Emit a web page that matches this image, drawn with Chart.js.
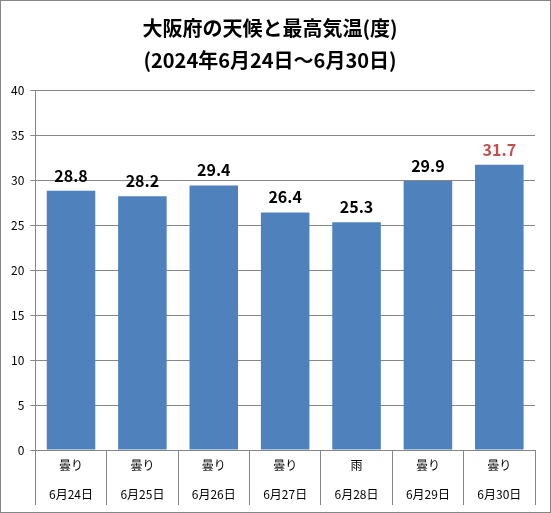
<!DOCTYPE html>
<html>
<head>
<meta charset="utf-8">
<script src="https://cdn.jsdelivr.net/npm/chart.js@4"></script>
<style>
  body { margin: 0; background: #fff; }
  #wrap { position: absolute; left: 0; top: 0; width: 549px; height: 511px; border: 1px solid #868686; }
</style>
</head>
<body>
<div id="wrap"><canvas id="myBarChart" width="549" height="511"></canvas></div>
<script>
const weather = ["曇り", "曇り", "曇り", "曇り", "雨", "曇り", "曇り"];
const dates = ["6月24日", "6月25日", "6月26日", "6月27日", "6月28日", "6月29日", "6月30日"];
const temps = [28.8, 28.2, 29.4, 26.4, 25.3, 29.9, 31.7];
const labelColors = ["#000", "#000", "#000", "#000", "#000", "#000", "#C0504D"];

const FONT = "'Noto Sans CJK JP', 'Noto Sans', sans-serif";

// valores encima de las barras + etiquetas del eje x (dos filas)
const valueLabels = {
    id: "valueLabels",
    afterDatasetsDraw(chart) {
        const ctx = chart.ctx;
        const meta = chart.getDatasetMeta(0);
        ctx.save();
        ctx.font = "bold 16px " + FONT;
        ctx.textAlign = "center";
        ctx.textBaseline = "bottom";
        meta.data.forEach((bar, i) => {
            ctx.fillStyle = labelColors[i];
            ctx.fillText(temps[i].toFixed(1), bar.x, bar.y - 7);
        });

        const xs = chart.scales.x;
        ctx.font = "12px " + FONT;
        ctx.fillStyle = "#000";
        ctx.textBaseline = "middle";
        weather.forEach((w, i) => {
            const x = xs.getPixelForValue(i);
            ctx.fillText(w, x, xs.top + 15);
            ctx.fillText(dates[i], x, xs.top + 44);
        });
        ctx.restore();
    }
};

const ctx = document.getElementById("myBarChart").getContext("2d");
new Chart(ctx, {
    type: 'bar',
    data: {
        labels: dates,
        datasets: [{
            data: temps,
            backgroundColor: "#4F81BD",
            barPercentage: 0.68,
            categoryPercentage: 1
        }]
    },
    options: {
        responsive: false,
        animation: false,
        layout: { padding: { left: 4, right: 15, top: 0, bottom: 7 } },
        scales: {
            x: {
                grid: { offset: true, drawOnChartArea: false, color: "#868686", tickLength: 55 },
                border: { color: "#868686" },
                ticks: { display: false }
            },
            y: {
                min: 0,
                max: 40,
                ticks: { stepSize: 5, color: "#000", font: { family: FONT, size: 12 }, padding: 6 },
                grid: { color: "#868686", tickLength: 5 },
                border: { color: "#868686" }
            }
        },
        plugins: {
            legend: { display: false },
            tooltip: { enabled: false },
            title: {
                display: true,
                text: ["大阪府の天候と最高気温(度)", "(2024年6月24日～6月30日)"],
                color: "#000",
                font: { family: FONT, size: 20, weight: "bold", lineHeight: 1.6 },
                padding: { top: 11, bottom: 14 }
            }
        }
    },
    plugins: [valueLabels]
});
</script>
</body>
</html>
